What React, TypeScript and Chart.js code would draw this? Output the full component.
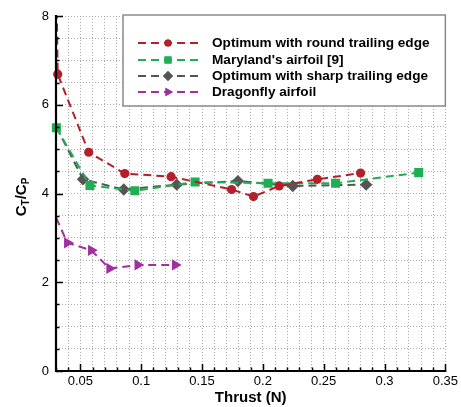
import React, { useEffect, useRef } from 'react';
import { Chart, registerables } from 'chart.js';
import { drawPoint } from 'chart.js/helpers';

Chart.register(...registerables);

// Data
const roundX = [0.0302, 0.0314, 0.0569, 0.0865, 0.1246, 0.1743, 0.1923, 0.2134, 0.2448, 0.2803];
const roundY = [9.0, 6.69, 4.93, 4.45, 4.38, 4.09, 3.93, 4.17, 4.32, 4.46];
const marylandX = [0.0303, 0.0579, 0.0948, 0.1443, 0.2043, 0.2598, 0.3281];
const marylandY = [5.48, 4.18, 4.06, 4.26, 4.23, 4.23, 4.47];
const sharpX = [0.0303, 0.0522, 0.0857, 0.1292, 0.1795, 0.2246, 0.2849];
const sharpY = [5.5, 4.32, 4.09, 4.2, 4.28, 4.17, 4.2];
const dragonX = [0.0302, 0.0393, 0.059, 0.074, 0.0972, 0.128];
const dragonY = [3.45, 2.89, 2.72, 2.31, 2.39, 2.39];

const seriesNames = [
  'Optimum with round trailing edge',
  "Maryland's airfoil [9]",
  'Optimum with sharp trailing edge',
  'Dragonfly airfoil',
];
const seriesColors = ['#b3202a', '#1fae54', '#555555', '#a0309f'];
const seriesStyles = ['circle', 'rect', 'rectRot', 'triangle'];
const seriesRotation = [0, 0, 0, 90];

const xTickLabels = ['0.05', '0.1', '0.15', '0.2', '0.25', '0.3', '0.35'];
const yTickLabels = ['0', '2', '4', '6', '8'];

const FONT = "'Liberation Sans', Arial, Helvetica, sans-serif";

function pts(xs: number[], ys: number[]) {
  return xs.map((x, i) => ({ x, y: ys[i] }));
}

const overlayPlugin = {
  id: 'overlay',
  afterDraw(chart: any) {
    const { ctx, chartArea, scales } = chart;
    const xs = scales.x;
    const ys = scales.y;
    const { left, right, top, bottom } = chartArea;
    ctx.save();
    // ticks (inward)
    ctx.strokeStyle = '#000';
    ctx.lineWidth = 1.5;
    ctx.beginPath();
    for (let i = 3; i <= 35; i++) {
      const v = i / 100;
      const px = Math.round(xs.getPixelForValue(v)) + 0.5;
      const len = i % 5 === 0 ? 7 : 3.5;
      ctx.moveTo(px, bottom);
      ctx.lineTo(px, bottom - len);
    }
    for (let i = 0; i <= 16; i++) {
      const v = i / 2;
      const py = Math.round(ys.getPixelForValue(v)) + 0.5;
      const len = i % 4 === 0 ? 7 : 3.5;
      ctx.moveTo(left, py);
      ctx.lineTo(left + len, py);
    }
    ctx.stroke();
    // axis lines
    ctx.lineWidth = 2.2;
    ctx.beginPath();
    ctx.moveTo(left, top - 1);
    ctx.lineTo(left, bottom);
    ctx.lineTo(right + 1, bottom);
    ctx.stroke();

    // x title
    ctx.fillStyle = '#000';
    ctx.font = `bold 15px ${FONT}`;
    ctx.textAlign = 'center';
    ctx.textBaseline = 'middle';
    ctx.fillText('Thrust (N)', (left + right) / 2, 398);

    // y title with subscripts
    ctx.save();
    ctx.translate(21, 197);
    ctx.rotate(-Math.PI / 2);
    const big = `bold 15px ${FONT}`;
    const small = `bold 10px ${FONT}`;
    const parts: [string, boolean][] = [['C', false], ['T', true], ['/C', false], ['P', true]];
    let total = 0;
    for (const [t, sub] of parts) {
      ctx.font = sub ? small : big;
      total += ctx.measureText(t).width;
    }
    let cx = -total / 2;
    ctx.textAlign = 'left';
    ctx.textBaseline = 'alphabetic';
    for (const [t, sub] of parts) {
      ctx.font = sub ? small : big;
      ctx.fillText(t, cx, sub ? 8 : 5);
      cx += ctx.measureText(t).width;
    }
    ctx.restore();

    // legend
    const lx = 123, ly = 15, lw = right - 123, lh = 91;
    ctx.fillStyle = '#fff';
    ctx.fillRect(lx, ly, lw, lh);
    ctx.strokeStyle = '#8a8a8a';
    ctx.lineWidth = 1.5;
    ctx.strokeRect(lx, ly, lw, lh);
    const rowY = [43, 60, 76, 92];
    const legendRadius = [3.6, 5, 5, 5];
    for (let i = 0; i < 4; i++) {
      const y = rowY[i];
      ctx.strokeStyle = seriesColors[i];
      ctx.lineWidth = 2;
      ctx.setLineDash([8, 5]);
      ctx.beginPath();
      ctx.moveTo(138, y);
      ctx.lineTo(198, y);
      ctx.stroke();
      ctx.setLineDash([]);
      ctx.fillStyle = seriesColors[i];
      drawPoint(ctx, {
        pointStyle: seriesStyles[i],
        radius: legendRadius[i],
        rotation: seriesRotation[i],
        borderWidth: 0,
      } as any, 168, y);
      ctx.fill();
      ctx.fillStyle = '#000';
      ctx.font = `bold 13.6px ${FONT}`;
      ctx.textAlign = 'left';
      ctx.textBaseline = 'middle';
      ctx.fillText(seriesNames[i], 212, y + 0.5);
    }
    ctx.restore();
  },
};

export default function App() {
  const ref = useRef<HTMLCanvasElement>(null);
  useEffect(() => {
    if (!ref.current) return;
    const allX = [roundX, marylandX, sharpX, dragonX];
    const allY = [roundY, marylandY, sharpY, dragonY];
    const radii = [4.6, 6.4, 6.2, 6.5];
    const datasets = allX.map((xs, i) => ({
      label: seriesNames[i],
      data: pts(xs, allY[i]),
      borderColor: seriesColors[i],
      backgroundColor: seriesColors[i],
      borderWidth: 2,
      borderDash: [8, 5],
      pointStyle: seriesStyles[i],
      pointRotation: seriesRotation[i],
      pointRadius: i >= 2 ? xs.map((_, k) => (k === 0 ? 0 : radii[i])) : radii[i],
      pointBorderWidth: 0,
      pointHoverRadius: radii[i],
      tension: 0,
      clip: { left: 8, top: 0, right: 8, bottom: 8 },
      showLine: true,
    }));
    const chart = new Chart(ref.current, {
      type: 'scatter',
      data: { datasets },
      options: {
        responsive: false,
        animation: false,
        events: [],
        layout: { padding: { top: 16, right: 15, left: 0, bottom: 0 } },
        plugins: { legend: { display: false }, tooltip: { enabled: false } },
        scales: {
          x: {
            type: 'linear',
            min: 0.03,
            max: 0.35,
            afterFit: (s: any) => { s.height = 36; },
            ticks: {
              stepSize: 0.01,
              autoSkip: false,
              maxRotation: 0,
              padding: 3,
              color: '#000',
              font: { family: FONT, size: 13 },
              callback: (v: any) => {
                const k = Math.round(Number(v) * 100);
                if (k % 5 !== 0) return '';
                const idx = k / 5 - 1;
                return idx >= 0 && idx < xTickLabels.length ? xTickLabels[idx] : '';
              },
            },
            grid: { color: '#ababab', lineWidth: 1, drawTicks: false },
            border: { display: false, dash: [1, 2] },
          },
          y: {
            type: 'linear',
            min: 0,
            max: 8,
            afterFit: (s: any) => { s.width = 56; },
            ticks: {
              stepSize: 0.5,
              autoSkip: false,
              padding: 7,
              color: '#000',
              font: { family: FONT, size: 13 },
              callback: (v: any) => {
                const k = Math.round(Number(v) * 2);
                if (k % 4 !== 0) return '';
                return yTickLabels[k / 4] ?? '';
              },
            },
            grid: { color: '#ababab', lineWidth: 1, drawTicks: false },
            border: { display: false, dash: [1, 2] },
          },
        },
      },
      plugins: [overlayPlugin],
    } as any);
    return () => chart.destroy();
  }, []);
  return (
    <div style={{ position: 'fixed', left: 0, top: 0, width: 461, height: 407, background: '#fff' }}>
      <canvas ref={ref} width={461} height={407} style={{ display: 'block', width: 461, height: 407 }} />
    </div>
  );
}
